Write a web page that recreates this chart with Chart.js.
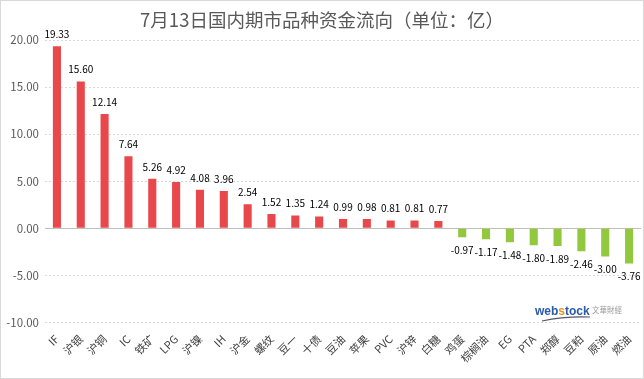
<!DOCTYPE html>
<html>
<head>
<meta charset="utf-8">
<script src="https://cdn.jsdelivr.net/npm/chart.js@4/dist/chart.umd.min.js"></script>
<style>
html,body{margin:0;padding:0;background:#fff;}
#wrap{width:644px;height:379px;position:relative;}
</style>
</head>
<body>
<div id="wrap"><canvas id="c" width="644" height="379"></canvas></div>
<script>
const categories = ["IF","沪银","沪铜","IC","铁矿","LPG","沪镍","IH","沪金","螺纹","豆一","十债","豆油","苹果","PVC","沪锌","白糖","鸡蛋","棕榈油","EG","PTA","郑醇","豆粕","原油","燃油"];
const flows = [19.33,15.60,12.14,7.64,5.26,4.92,4.08,3.96,2.54,1.52,1.35,1.24,0.99,0.98,0.81,0.81,0.77,-0.97,-1.17,-1.48,-1.80,-1.89,-2.46,-3.00,-3.76];
const yTicks = [-10,-5,0,5,10,15,20];
const titleText = "7月13日国内期市品种资金流向（单位：亿）";

const FONT = "'Noto Sans CJK SC','Noto Sans',sans-serif";

const extras = {
  id: 'extras',
  beforeDatasetsDraw(chart) {
    const ctx = chart.ctx;
    const y0 = Math.round(chart.scales.y.getPixelForValue(0)) + 0.5;
    ctx.save();
    ctx.strokeStyle = '#bfbfbf';
    ctx.lineWidth = 1;
    ctx.beginPath();
    ctx.moveTo(chart.chartArea.left, y0);
    ctx.lineTo(chart.chartArea.right, y0);
    ctx.stroke();
    ctx.restore();
  },
  afterDatasetsDraw(chart) {
    const ctx = chart.ctx;
    const meta = chart.getDatasetMeta(0);
    ctx.save();
    ctx.font = "10px " + FONT;
    ctx.fillStyle = "#000";
    ctx.textAlign = "center";
    meta.data.forEach((bar, i) => {
      const v = flows[i];
      const txt = v.toFixed(2);
      if (v >= 0) {
        ctx.textBaseline = "bottom";
        ctx.fillText(txt, bar.x, bar.y - 7);
      } else {
        ctx.textBaseline = "top";
        ctx.fillText(txt, bar.x, bar.y + 8);
      }
    });
    ctx.restore();
  },
  afterDraw(chart) {
    const ctx = chart.ctx;
    ctx.save();
    ctx.font = "18.5px " + FONT;
    ctx.fillStyle = "#595959";
    ctx.textAlign = "center";
    ctx.textBaseline = "middle";
    ctx.fillText(titleText, 322, 20);
    ctx.textAlign = "left";
    ctx.textBaseline = "alphabetic";
    ctx.font = "bold 12px 'Liberation Sans',sans-serif";
    let x = 535;
    const parts = [["web", "#2a5aa8"], ["s", "#e8951e"], ["tock", "#2a5aa8"]];
    parts.forEach(p => {
      ctx.fillStyle = p[1];
      ctx.fillText(p[0], x, 315);
      x += ctx.measureText(p[0]).width;
    });
    ctx.font = "7.5px " + FONT;
    ctx.fillStyle = "#9a9a9a";
    ctx.fillText("文華財經", 592, 313);
    ctx.strokeStyle = "#55556a";
    ctx.lineWidth = 1.2;
    ctx.beginPath();
    ctx.moveTo(542, 321);
    ctx.quadraticCurveTo(565, 316, 590, 317);
    ctx.stroke();
    ctx.strokeStyle = "#d9d9d9";
    ctx.lineWidth = 1;
    ctx.strokeRect(0.5, 0.5, 643, 378);
    ctx.restore();
  }
};

new Chart(document.getElementById('c'), {
  type: 'bar',
  data: {
    labels: categories,
    datasets: [{
      data: flows,
      backgroundColor: flows.map(v => v >= 0 ? '#e8484b' : '#92c83e'),
      barPercentage: 0.34,
      categoryPercentage: 1.0
    }]
  },
  options: {
    responsive: false,
    animation: false,
    devicePixelRatio: 1,
    layout: { padding: { top: 40, right: 3, left: 2, bottom: 12 } },
    plugins: { legend: { display: false }, title: { display: false }, tooltip: { enabled: false } },
    scales: {
      x: {
        grid: { display: false },
        border: { display: false },
        ticks: {
          color: '#404040',
          font: { size: 11, family: FONT },
          maxRotation: 45, minRotation: 45,
          autoSkip: false,
          padding: 2
        }
      },
      y: {
        min: -10, max: 20,
        afterBuildTicks(axis) { axis.ticks = yTicks.map(v => ({ value: v })); },
        afterFit(axis) { axis.width = 43; },
        border: { display: false, dash: [2, 2] },
        grid: {
          color: ctx => ctx.tick && ctx.tick.value === 0 ? 'rgba(0,0,0,0)' : '#d9d9d9',
          drawTicks: false
        },
        ticks: {
          color: '#595959',
          font: { size: 11.5, family: FONT },
          padding: 6,
          callback: v => Number(v).toFixed(2)
        }
      }
    }
  },
  plugins: [extras]
});
</script>
</body>
</html>
